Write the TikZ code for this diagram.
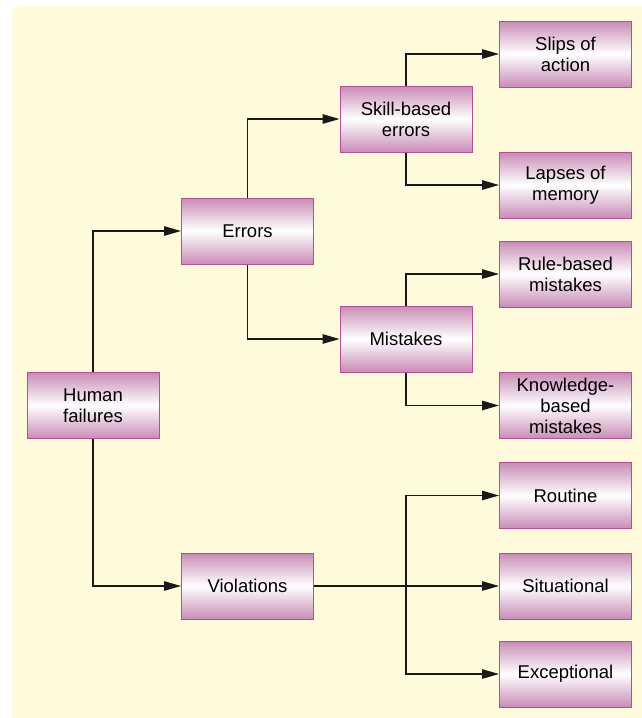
\documentclass[tikz,border=0pt]{standalone}
\usepackage{fontspec}
\setmainfont{Liberation Sans}
\usetikzlibrary{arrows.meta,shadings,calc}
\definecolor{bgc}{RGB}{255,250,220}
\definecolor{boxborder}{RGB}{180,80,145}
\definecolor{boxshade}{RGB}{200,140,182}
\begin{document}
\begin{tikzpicture}[x=1pt,y=-1pt,
  fbox/.style={draw=boxborder,line width=1pt,minimum width=132pt,minimum height=66pt,inner sep=0pt,
    top color=boxshade,bottom color=boxshade,middle color=white,
    align=center,font=\fontsize{18.5}{21}\selectfont},
  arr/.style={draw=black!90,line width=1.2pt,-{Triangle[length=17pt,width=9.5pt]}},
  ln/.style={draw=black!90,line width=1.2pt}]
\useasboundingbox (0,0) rectangle (641,718);
\fill[bgc,rounded corners=8pt] (12,6) rectangle (670,750);
\node[fbox] (hf) at (93,405.5) {Human\\failures};
\node[fbox] (errors) at (247.5,231) {Errors};
\node[fbox] (violations) at (247.5,586) {Violations};
\node[fbox] (skill) at (406,119) {Skill-based\\errors};
\node[fbox] (mistakes) at (406,339) {Mistakes};
\node[fbox] (slips) at (565.5,54) {Slips of\\action};
\node[fbox] (lapses) at (565.5,185) {Lapses of\\memory};
\node[fbox] (rule) at (565.5,274) {Rule-based\\mistakes};
\node[fbox] (knowledge) at (565.5,405.5) {Knowledge-\\based\\mistakes};
\node[fbox] (routine) at (565.5,495.5) {Routine};
\node[fbox] (situational) at (565.5,586) {Situational};
\node[fbox] (exceptional) at (565.5,674) {Exceptional};
\draw[arr] (hf.north) |- (errors.west);
\draw[arr] (hf.south) |- (violations.west);
\draw[arr] (errors.north) |- (skill.west);
\draw[arr] (errors.south) |- (mistakes.west);
\draw[arr] (skill.north) |- (slips.west);
\draw[arr] (skill.south) |- (lapses.west);
\draw[arr] (mistakes.north) |- (rule.west);
\draw[arr] (mistakes.south) |- (knowledge.west);
\coordinate (vj) at (mistakes.south |- violations.east);
\draw[arr] (violations.east) -- (situational.west);
\draw[arr] (vj) |- (routine.west);
\draw[arr] (vj) |- (exceptional.west);
\end{tikzpicture}
\end{document}
